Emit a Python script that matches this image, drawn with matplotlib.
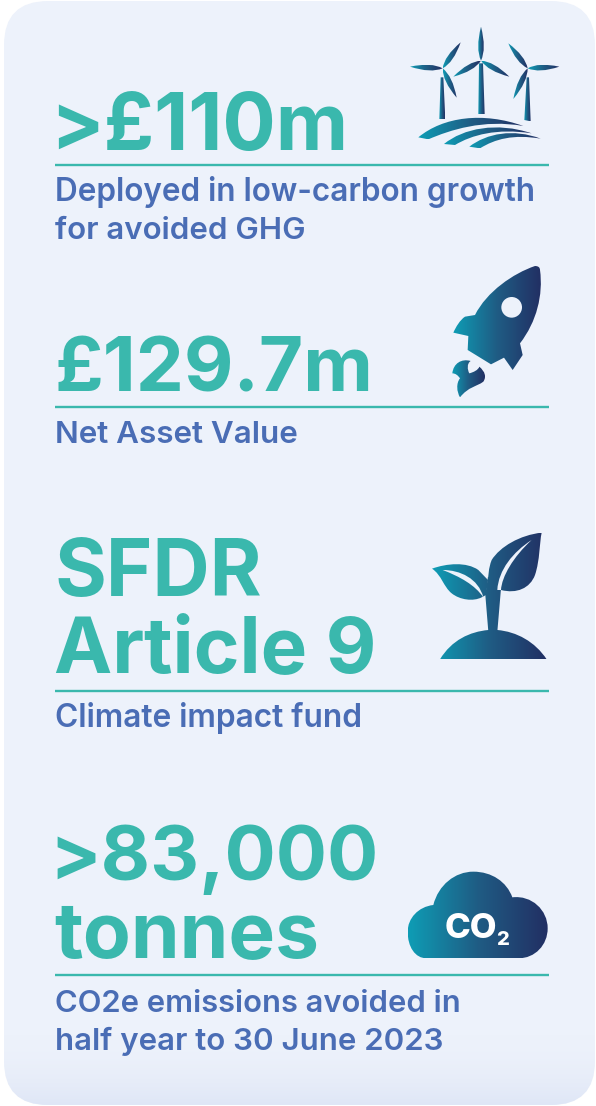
#!/usr/bin/env python3
"""Fund highlights infographic: four headline figures with icons."""

import numpy as np
import matplotlib
matplotlib.use('Agg')
import matplotlib.pyplot as plt
from matplotlib.patches import FancyBboxPatch, PathPatch, Circle
from matplotlib.path import Path
from matplotlib.colors import LinearSegmentedColormap

# Text content
headlines = ['>£110m', '£129.7m', 'SFDR', 'Article 9', '>83,000', 'tonnes']
headline_x = [50, 54, 54, 54, 49, 54]
headline_y = [150, 392, 596, 672, 880, 958]
headline_size = [57, 55, 57, 56.2, 54.7, 56.4]
sublabels = ['Deployed in low-carbon growth', 'for avoided GHG', 'Net Asset Value',
             'Climate impact fund', 'CO2e emissions avoided in',
             'half year to 30 June 2023']
sublabel_y = [201, 239, 443, 727, 1012, 1050]
sublabel_size = [22.7, 22.5, 22.6, 22.8, 22.3, 22.5]
rule_y = [164.5, 407, 691, 975]

TEAL = '#3AB8AD'
BLUE = '#4A6DB5'
PANEL = '#EDF2FB'
FONT = ['Inter', 'DejaVu Sans']

icon_cmap = LinearSegmentedColormap.from_list('icon', ['#0E9DB5', '#1F5C84', '#222F63'])
grad = np.linspace(0, 1, 256).reshape(1, -1)

fig = plt.figure(figsize=(5.96, 11.06), dpi=100, facecolor='white')
ax = fig.add_axes([0, 0, 1, 1])


def svg(cmds, x0, y0):
    """Path from (code, pts) pieces given in 3x zoom pixels."""
    verts, codes = [], []
    for c, pts in cmds:
        pts = [(x0 + px / 3, y0 + py / 3) for px, py in pts]
        verts += pts
        if c == 'M':
            codes.append(Path.MOVETO)
        elif c == 'L':
            codes += [Path.LINETO] * len(pts)
        elif c == 'C':
            codes += [Path.CURVE4] * len(pts)
        elif c == 'Q':
            codes += [Path.CURVE3] * len(pts)
    verts.append(verts[0])
    codes.append(Path.CLOSEPOLY)
    return Path(verts, codes)


def fill_grad(path, span=None):
    """Left to right icon gradient clipped to a path."""
    bb = path.get_extents()
    x0, x1 = span if span else (bb.x0, bb.x1)
    im = ax.imshow(grad, cmap=icon_cmap, aspect='auto', zorder=3,
                   extent=[x0, x1, bb.y1, bb.y0], interpolation='bilinear')
    patch = PathPatch(path, transform=ax.transData, fc='none', ec='none')
    im.set_clip_path(patch)


def blade(hub, tip, width, x0, y0):
    hx, hy = hub
    tx, ty = tip
    dx, dy = tx - hx, ty - hy
    ln = np.hypot(dx, dy)
    nx, ny = -dy / ln * width, dx / ln * width
    mx, my = hx + dx * 0.35, hy + dy * 0.35
    return svg([('M', [hub]),
                ('Q', [(mx + nx, my + ny), tip]),
                ('Q', [(mx - nx, my - ny), hub])], x0, y0)


# Panel
panel = FancyBboxPatch((4, 1), 591, 1104, boxstyle='round,pad=0,rounding_size=44',
                       fc=PANEL, ec='none', zorder=1)
ax.add_patch(panel)
shade = np.ones((200, 1, 4))
shade[:, 0, 0] = 0.875
shade[:, 0, 1] = 0.905
shade[:, 0, 2] = 0.965
shade[:, 0, 3] = np.linspace(0, 1, 200) ** 2
bg = ax.imshow(shade, extent=[4, 595, 1105, 1030], aspect='auto', zorder=1.5,
               interpolation='bilinear')
bg.set_clip_path(FancyBboxPatch((4, 1), 591, 1104, boxstyle='round,pad=0,rounding_size=44',
                                transform=ax.transData, fc='none', ec='none'))

# Headlines, rules and sublabels
for s, x, y, fs in zip(headlines, headline_x, headline_y, headline_size):
    ax.text(x, y, s, color=TEAL, fontsize=fs, fontweight='bold', family=FONT,
            ha='left', va='baseline', zorder=4)
for y in rule_y:
    ax.plot([55, 549], [y, y], color=TEAL, lw=1.7, solid_capstyle='butt', zorder=4)
for s, y, fs in zip(sublabels, sublabel_y, sublabel_size):
    ax.text(55, y, s, color=BLUE, fontsize=fs, fontweight='semibold', family=FONT,
            ha='left', va='baseline', zorder=4)

# Wind turbines
OX, OY = 400, 20
turbines = [((128, 145), [(182, 67), (30, 140), (170, 233)]),
            ((243, 122), [(243, 20), (160, 170), (328, 170)]),
            ((383, 145), [(325, 70), (478, 140), (340, 237)])]
for hub, tips in turbines:
    for tip in tips:
        fill_grad(blade(hub, tip, 17, OX, OY))
towers = [[(122, 172), (130, 172), (136, 298), (118, 298)],
          [(237, 130), (249, 130), (254, 282), (235, 282)],
          [(380, 172), (387, 172), (392, 304), (373, 300)]]
for t in towers:
    fill_grad(svg([('M', t[:1]), ('L', t[1:])], OX, OY))
waves = [[(55, 352), (130, 290), (250, 275), (370, 318), (250, 297), (150, 330), (85, 358)],
         [(132, 372), (190, 325), (290, 305), (395, 340), (290, 324), (215, 345), (165, 375)],
         [(208, 380), (260, 340), (340, 325), (422, 356), (340, 342), (285, 357), (240, 385)]]
for w in waves:
    fill_grad(svg([('M', w[:1]), ('C', w[1:4]), ('L', []), ('C', w[4:])], OX, OY))

# Rocket
OX, OY = 430, 255
rocket = svg([('M', [(315, 33)]),
              ('C', [(250, 55), (170, 110), (135, 180)]),
              ('L', [(105, 185)]),
              ('C', [(90, 195), (78, 215), (70, 233)]),
              ('L', [(115, 243), (113, 285), (183, 328), (222, 308), (248, 345),
                     (278, 300), (270, 265)]),
              ('C', [(320, 200), (340, 120), (330, 45)]),
              ('Q', [(330, 33), (315, 33)])], OX, OY)
fill_grad(rocket)
ax.add_patch(Circle((OX + 245 / 3, OY + 157 / 3), 31 / 3, fc=PANEL, ec='none', zorder=4))
flame = svg([('M', [(67, 355)]),
             ('C', [(70, 325), (95, 310), (122, 318)]),
             ('C', [(110, 325), (112, 345), (118, 355)]),
             ('C', [(130, 352), (145, 345), (148, 335)]),
             ('C', [(165, 350), (170, 365), (160, 380)]),
             ('C', [(140, 395), (115, 395), (90, 427)]),
             ('C', [(80, 410), (78, 385), (90, 370)]),
             ('Q', [(80, 355), (67, 355)])], OX, OY)
fill_grad(flame)

# Sprout, one gradient shared by its pieces
OX, OY = 420, 520
span = (OX + 36 / 3, OX + 380 / 3)
mound = svg([('M', [(60, 418)]),
             ('C', [(95, 360), (150, 335), (205, 330)]),
             ('L', [(232, 330)]),
             ('C', [(290, 335), (345, 365), (380, 418)])], OX, OY)
stem = svg([('M', [(204, 170)]),
            ('L', [(243, 205), (232, 335), (205, 335), (196, 225)])], OX, OY)
left_leaf = svg([('M', [(36, 146)]),
                 ('C', [(80, 130), (140, 125), (175, 150)]),
                 ('L', [(204, 180), (198, 225), (185, 232)]),
                 ('C', [(160, 245), (120, 240), (95, 220)]),
                 ('C', [(70, 200), (65, 165), (36, 146)])], OX, OY)
right_leaf = svg([('M', [(365, 38)]),
                  ('C', [(300, 45), (240, 80), (215, 120)]),
                  ('C', [(205, 145), (205, 170), (204, 180)]),
                  ('L', [(215, 215), (243, 210)]),
                  ('C', [(290, 222), (330, 205), (345, 165)]),
                  ('C', [(360, 120), (358, 70), (365, 38)])], OX, OY)
for piece in [mound, stem, left_leaf, right_leaf]:
    fill_grad(piece, span)
slits = [svg([('M', [(68, 150)]), ('C', [(120, 150), (175, 175), (190, 232)]),
              ('C', [(165, 195), (120, 170), (68, 150)])], OX, OY),
         svg([('M', [(335, 60)]), ('C', [(280, 95), (235, 150), (232, 210)]),
              ('L', [(243, 210)]), ('C', [(245, 170), (280, 110), (335, 60)])], OX, OY)]
for s in slits:
    ax.add_patch(PathPatch(s, fc=PANEL, ec='none', zorder=4))

# Cloud
OX, OY = 395, 860
cloud = svg([('M', [(95, 295)]),
             ('C', [(60, 295), (38, 260), (38, 215)]),
             ('C', [(38, 175), (70, 140), (115, 135)]),
             ('C', [(130, 75), (180, 35), (235, 35)]),
             ('C', [(290, 35), (335, 65), (352, 112)]),
             ('C', [(410, 105), (458, 150), (458, 205)]),
             ('C', [(458, 255), (420, 295), (370, 295)])], OX, OY)
fill_grad(cloud)
ax.text(OX + 227 / 3, OY + 235 / 3, 'CO', color='white', fontsize=25, fontweight=800,
        family=FONT, ha='center', va='baseline', zorder=5)
ax.text(OX + 323 / 3, OY + 255 / 3, '2', color='white', fontsize=14.5, fontweight=800,
        family=FONT, ha='center', va='baseline', zorder=5)

ax.set_xlim(0, 596)
ax.set_ylim(1106, 0)
ax.axis('off')

fig.savefig('out.png', dpi=100, facecolor='white')
